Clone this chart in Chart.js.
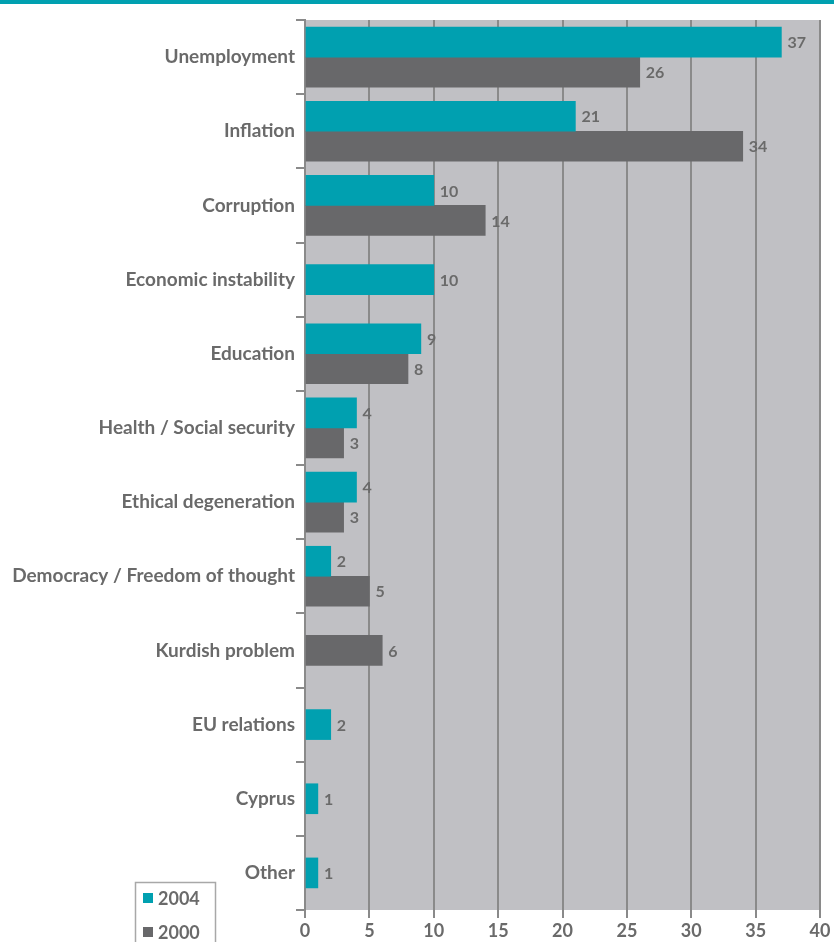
<!DOCTYPE html>
<html>
<head>
<meta charset="utf-8">
<script src="https://cdn.jsdelivr.net/npm/chart.js@4"></script>
<style>
  body { margin: 0; background: #fff; }
  #wrap { width: 834px; height: 942px; }
</style>
</head>
<body>
<div id="wrap"><canvas id="myGraph" width="834" height="942"></canvas></div>
<script>
// Problems named, survey results (%)
var categories = [
  "Unemployment", "Inflation", "Corruption", "Economic instability", "Education",
  "Health / Social security", "Ethical degeneration", "Democracy / Freedom of thought",
  "Kurdish problem", "EU relations", "Cyprus", "Other"
];
var values2004 = [37, 21, 10, 10, 9, 4, 4, 2, null, 2, 1, 1];
var values2000 = [26, 34, 14, null, 8, 3, 3, 5, 6, null, null, null];
var xTicks = [0, 5, 10, 15, 20, 25, 30, 35, 40];

var teal = "#00a0b0";
var darkGray = "#68686a";
var textGray = "#6a6a6a";

var graph = document.getElementById("myGraph").getContext("2d");

// plot background + top strip + value labels + legend box
var decor = {
  id: "decor",
  beforeDraw: function(chart) {
    var c = chart.ctx, a = chart.chartArea;
    c.save();
    c.fillStyle = teal;
    c.fillRect(0, 0, chart.width, 4);
    c.fillStyle = "#c0c0c4";
    c.fillRect(a.left, a.top, a.right - a.left, a.bottom - a.top);
    c.restore();
  },
  afterDatasetsDraw: function(chart) {
    var c = chart.ctx;
    c.save();
    c.font = "bold 16px Lato";
    c.fillStyle = textGray;
    c.textAlign = "left";
    c.textBaseline = "middle";
    chart.data.datasets.forEach(function(ds, i) {
      chart.getDatasetMeta(i).data.forEach(function(bar, j) {
        if (ds.data[j] == null) return;
        c.fillText(ds.data[j], bar.x + 6, bar.y + 1);
      });
    });
    c.restore();
  },
  afterDraw: function(chart) {
    var c = chart.ctx;
    c.save();
    c.strokeStyle = "#a8a8a8";
    c.lineWidth = 1.5;
    c.strokeRect(135.5, 882.5, 80, 70);
    c.fillStyle = teal;
    c.fillRect(143, 893, 10, 10);
    c.fillStyle = darkGray;
    c.fillRect(143, 927, 10, 10);
    c.font = "bold 18px Lato";
    c.fillStyle = textGray;
    c.textBaseline = "middle";
    c.fillText("2004", 158, 899);
    c.fillText("2000", 158, 933);
    c.restore();
  }
};

var chart = new Chart(graph, {
  type: "bar",
  data: {
    labels: categories,
    datasets: [
      {
        label: "2004",
        data: values2004,
        backgroundColor: teal,
        barThickness: 30,
        skipNull: true
      },
      {
        label: "2000",
        data: values2000,
        backgroundColor: darkGray,
        barThickness: 30,
        skipNull: true
      }
    ]
  },
  options: {
    indexAxis: "y",
    responsive: false,
    animation: false,
    layout: { padding: { top: 20, right: 14, left: 0, bottom: 0 } },
    plugins: {
      legend: { display: false },
      tooltip: { enabled: false }
    },
    scales: {
      x: {
        min: 0,
        max: 40,
        afterBuildTicks: function(s) {
          s.ticks = xTicks.map(function(v) { return { value: v }; });
        },
        afterFit: function(s) { s.height = 32; },
        grid: {
          color: "#8a8a8a",
          lineWidth: 2,
          tickLength: 8
        },
        border: { display: false },
        ticks: {
          color: textGray,
          font: { family: "Lato", size: 18, weight: "bold" },
          padding: 2,
          maxRotation: 0
        }
      },
      y: {
        afterFit: function(s) { s.width = 305; },
        offset: true,
        grid: {
          offset: true,
          drawOnChartArea: false,
          color: "#8a8a8a",
          lineWidth: 2,
          tickLength: 9
        },
        border: { color: "#8a8a8a", width: 2 },
        ticks: {
          color: textGray,
          font: { family: "Lato", size: 19, weight: "bold" },
          padding: 1
        }
      }
    }
  },
  plugins: [decor]
});
</script>
</body>
</html>
